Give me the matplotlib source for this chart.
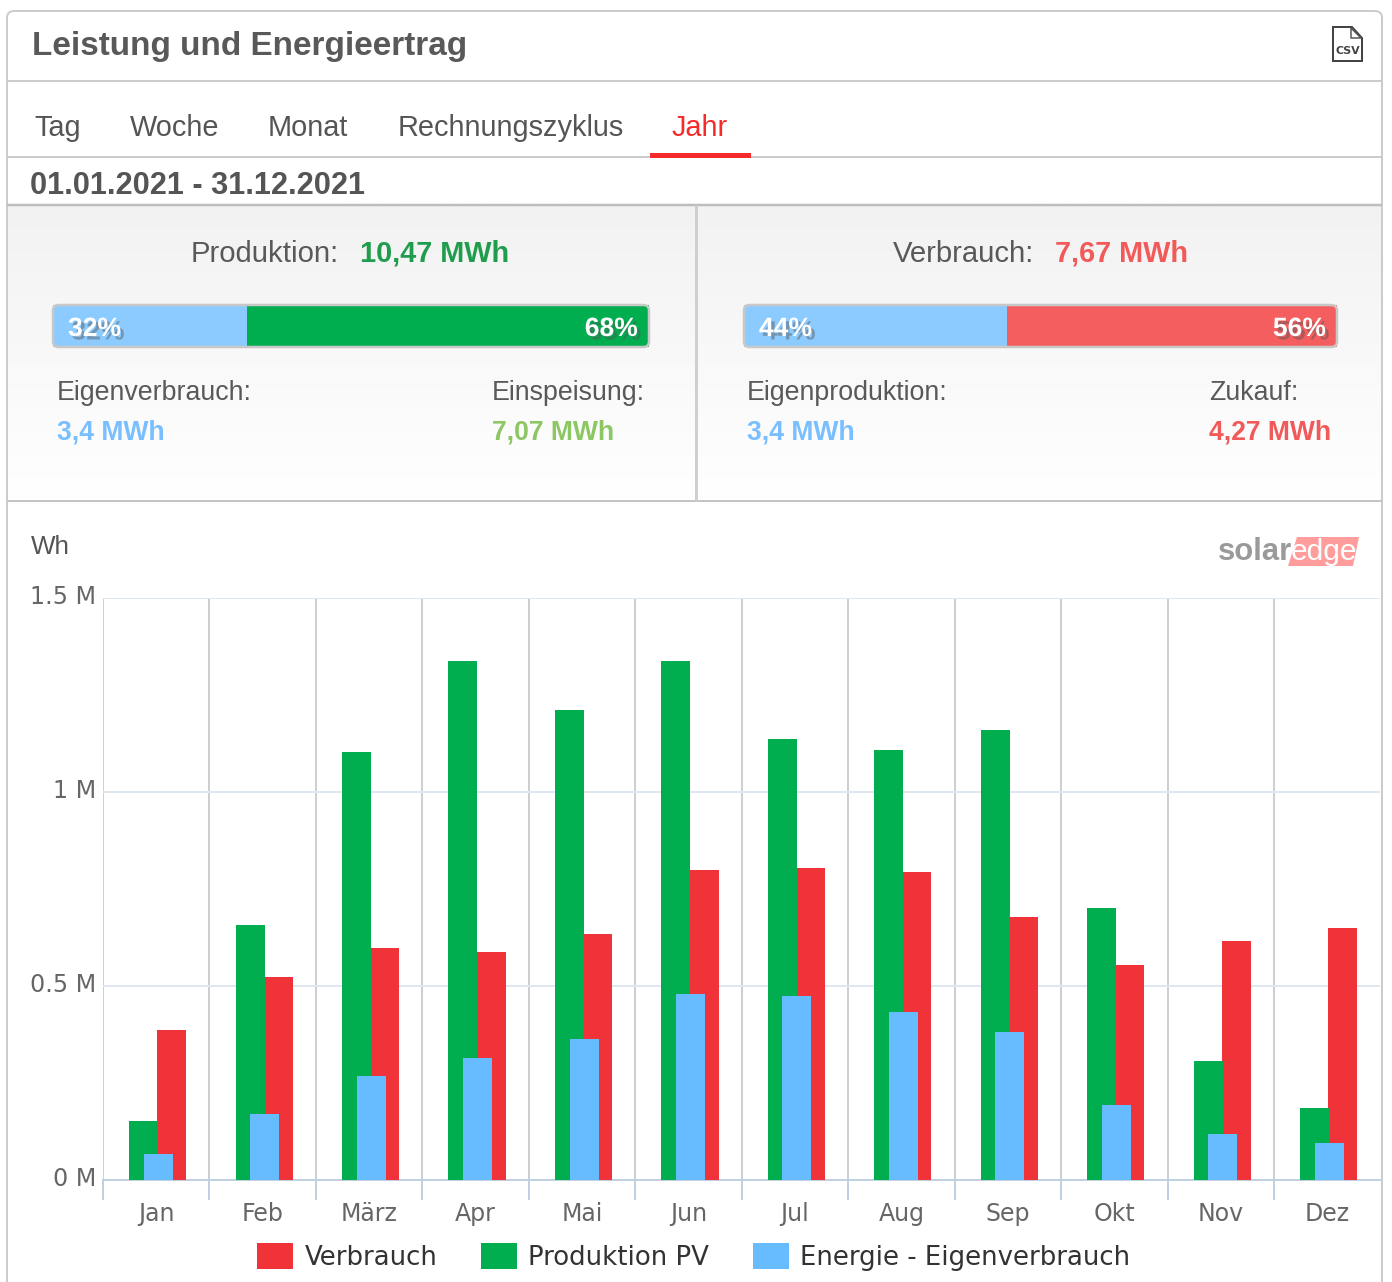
import numpy as np
import matplotlib
matplotlib.use("Agg")
import matplotlib.pyplot as plt
from matplotlib.patches import FancyBboxPatch, Polygon, Rectangle
from matplotlib.transforms import ScaledTranslation
import matplotlib.patheffects as pe

months = ["Jan", "Feb", "März", "Apr", "Mai", "Jun", "Jul", "Aug", "Sep", "Okt", "Nov", "Dez"]
verbrauch = [0.387, 0.523, 0.598, 0.588, 0.634, 0.799, 0.804, 0.794, 0.678, 0.554, 0.616, 0.649]
produktion = [0.152, 0.657, 1.103, 1.338, 1.211, 1.338, 1.137, 1.108, 1.160, 0.701, 0.307, 0.186]
eigen = [0.067, 0.170, 0.268, 0.314, 0.363, 0.479, 0.474, 0.433, 0.381, 0.193, 0.119, 0.095]
y_ticks = [0, 0.5, 1, 1.5]
y_labels = ["0 M", "0.5 M", "1 M", "1.5 M"]
tabs = ["Tag", "Woche", "Monat", "Rechnungszyklus", "Jahr"]
prod_split = [32, 68]
cons_split = [44, 56]
prod_mwh = [3.4, 7.07]
cons_mwh = [3.4, 4.27]

W, H = 1392, 1282
SANS = ["Liberation Sans", "DejaVu Sans"]
CH = "DejaVu Sans"
px = 0.72
RED, GREEN, BLUE = "#f03338", "#00ae4f", "#66bcff"

fig = plt.figure(figsize=(W / 100, H / 100), dpi=100, facecolor="white")
bg = fig.add_axes([0, 0, 1, 1])
bg.set_xlim(0, W); bg.set_ylim(H, 0); bg.axis("off")
bg.set_zorder(1)

def box(x0, y0, x1, y1):
    return [x0 / W, 1 - y1 / H, (x1 - x0) / W, (y1 - y0) / H]

def T(x, y, s, size, color="#595959", weight="normal", ha="left", family=SANS, **kw):
    return bg.text(x, y, s, fontsize=size * px, color=color, fontweight=weight, ha=ha,
                   va="center", family=family, **kw)

# Panel gradients
grad = np.linspace(0, 1, 256).reshape(-1, 1)
cmap = matplotlib.colors.LinearSegmentedColormap.from_list("g", ["#f2f2f2", "#ffffff"])
for x0, x1 in [(7, 695), (698, 1381)]:
    bg.imshow(grad, extent=[x0, x1, 500, 206], aspect="auto", cmap=cmap, zorder=0)
bg.set_xlim(0, W); bg.set_ylim(H, 0)

# Frame
LINE = "#cccccc"
bg.add_patch(FancyBboxPatch((7, 11), 1375, 1300, boxstyle="round,pad=0,rounding_size=7",
                            fc="none", ec=LINE, lw=2 * px, zorder=3))
for y, c, lw in [(81, LINE, 2), (157, LINE, 2), (205, "#bdbdbd", 2.5), (501, "#c4c4c4", 2)]:
    bg.plot([7, 1382], [y, y], color=c, lw=lw * px, zorder=3, solid_capstyle="butt")
bg.plot([696, 696], [205, 501], color="#cfcfcf", lw=3 * px, zorder=3, solid_capstyle="butt")

# Header
T(32, 47, "Leistung und Energieertrag", 33.3, weight="bold", color="#595959")
tab_x = [34, 130, 268, 398, 672]
for x, s in zip(tab_x, tabs):
    T(x, 127.5, s, 28.9, color="#f52b2b" if s == "Jahr" else "#555555")
bg.add_patch(Rectangle((650, 153), 101, 5, fc="#f52b2b", ec="none", zorder=4))
T(30, 186, "01.01.2021 - 31.12.2021", 30.8, weight="bold", color="#555555")

# CSV icon
bg.add_patch(Polygon([(1333, 27), (1352, 27), (1362, 38), (1362, 61), (1333, 61)], closed=True,
                     fc="white", ec="#444444", lw=2 * px, zorder=4))
bg.add_patch(Polygon([(1351, 28), (1351, 38), (1361, 38)], closed=True, fc="white", ec="#555555", lw=1.5 * px, zorder=4))
T(1348, 51, "CSV", 11, weight="bold", color="#444444", ha="center", family=CH, zorder=5)

# Summary text
T(191, 253.5, "Produktion:", 29.2)
T(360, 253, "10,47 MWh", 28.9, weight="bold", color="#1f9d4d")
T(893, 253.5, "Verbrauch:", 29.2)
T(1055, 253, "7,67 MWh", 28.9, weight="bold", color="#f25a5a")
T(57, 392.5, "Eigenverbrauch:", 26.7)
T(57, 432, "3,4 MWh", 26.5, weight="bold", color="#79bfff")
T(492, 392.5, "Einspeisung:", 26.7)
T(492, 432, "7,07 MWh", 26.5, weight="bold", color="#8cc763")
T(747, 392.5, "Eigenproduktion:", 26.7)
T(747, 432, "3,4 MWh", 26.5, weight="bold", color="#79bfff")
T(1209, 392.5, "Zukauf:", 26.7)
T(1209, 432, "4,27 MWh", 26.5, weight="bold", color="#f25a5a")

# Progress bars
def progress(x0, x1, vals, labels, c0, c1):
    ax = fig.add_axes(box(x0, 305, x1, 347))
    ax.set_zorder(3)
    ax.set_xlim(0, sum(vals)); ax.set_ylim(0, 1); ax.axis("off")
    ax.barh(0.5, vals[0], height=1, left=0, color=c0)
    ax.barh(0.5, vals[1], height=1, left=vals[0], color=c1)
    shadow = [pe.SimplePatchShadow(offset=(2.5, -2.5), shadow_rgbFace="#555555", alpha=0.45), pe.Normal()]
    for xx, s, ha in [(x0 + 15, labels[0], "left"), (x1 - 11, labels[1], "right")]:
        fig.text(xx / W, 1 - 329 / H, s, fontsize=26.5 * px, color="white", fontweight="bold", ha=ha,
                 va="center", family=SANS, zorder=9, path_effects=shadow)
    fig.add_artist(FancyBboxPatch((x0 / W, 1 - 347 / H), (x1 - x0) / W, 42 / H,
                                  boxstyle="round,pad=0,rounding_size=0.004",
                                  transform=fig.transFigure, fc="none", ec="#c8c8c8", lw=2.5 * px, zorder=10,
                                  mutation_aspect=W / H))

progress(53, 649, prod_mwh, [f"{prod_split[0]}%", f"{prod_split[1]}%"], "#8bcbff", GREEN)
progress(744, 1337, cons_mwh, [f"{cons_split[0]}%", f"{cons_split[1]}%"], "#8bcbff", "#f55e5e")

# Chart
ax = fig.add_axes(box(103, 598, 1380.4, 1180))
ax.set_zorder(2); ax.patch.set_alpha(0)
x = np.arange(len(months))
unit = 106.45
bw = 29 / unit
ax.set_axisbelow(True)
ax.bar(x + 15.6 / unit, verbrauch, bw, color=RED, zorder=3, label="Verbrauch")
ax.bar(x - 12.6 / unit, produktion, bw, color=GREEN, zorder=4, label="Produktion PV")
ax.bar(x + 2.0 / unit, eigen, bw, color=BLUE, zorder=5, label="Energie - Eigenverbrauch")
ax.set_xlim(-0.5, 11.5); ax.set_ylim(0, 1.5)
for s in ["top", "right", "left"]:
    ax.spines[s].set_visible(False)
ax.spines["bottom"].set_color("#c0d0e3"); ax.spines["bottom"].set_linewidth(2 * px)
ax.set_yticks(y_ticks, y_labels)
ax.tick_params(axis="y", length=0, pad=5, labelsize=23.8 * px, labelcolor="#666666")
for lab in ax.get_yticklabels():
    lab.set_family(CH)
    lab.set_transform(lab.get_transform() + ScaledTranslation(0, 3 / 100, fig.dpi_scale_trans))
ax.set_xticks(np.arange(-0.5, 11, 1))
ax.set_xticklabels([])
ax.set_xticks(x, months, minor=True)
ax.tick_params(axis="x", which="major", length=20 * px, width=2 * px, color="#c0d0e3")
ax.tick_params(axis="x", which="minor", length=0, pad=22 * px, labelsize=23.6 * px, labelcolor="#666666")
ax.grid(axis="y", color="#dfe8f2", lw=2 * px, zorder=1)
ax.grid(axis="x", which="major", color="#ccd0d4", lw=2 * px, zorder=1)
T(31, 547, "Wh", 26, color="#555555")

# Legend
h, l = ax.get_legend_handles_labels()
leg = fig.legend(h, l, loc="center", bbox_to_anchor=(694 / W, 1 - 1257 / H), ncol=3, frameon=False,
                 handlelength=1.385, handleheight=1.15, handletextpad=0.42,
                 columnspacing=1.7, borderpad=0, prop={"family": CH, "size": 26 * px}, labelcolor="#333333")

# Logo
bg.add_patch(Polygon([(1297, 537), (1359, 537), (1353, 566), (1288, 566)], closed=True, fc="#ff9c9c", ec="none", zorder=6))
T(1218, 552, "solar", 31, weight="bold", color="#9a9a9a", zorder=7)
T(1291, 552, "edge", 30, color="white", zorder=7)

fig.savefig("out.png", dpi=100, facecolor="white")
